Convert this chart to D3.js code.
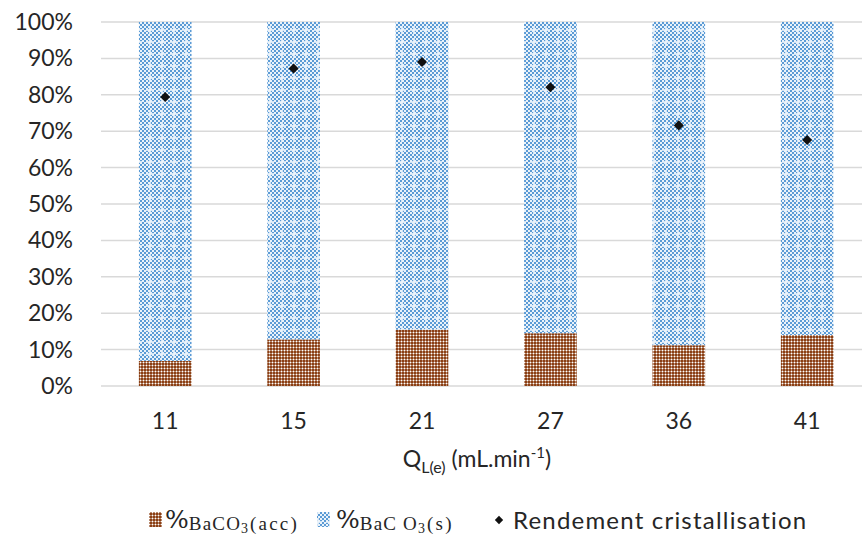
<!DOCTYPE html>
<html><head><meta charset="utf-8">
<script src="https://cdn.jsdelivr.net/npm/d3@7"></script>
<style>
html,body{margin:0;padding:0;background:#fff;}
svg{display:block;font-family:Lato,"Open Sans",sans-serif;}
</style></head>
<body><svg id="c" width="862" height="538"></svg>
<script>
const categories = ["11","15","21","27","36","41"];
const accValues = [0.069, 0.128, 0.155, 0.145, 0.112, 0.140];
const solidValues = [0.931, 0.872, 0.845, 0.855, 0.888, 0.860];
const yieldValues = [0.794, 0.872, 0.890, 0.821, 0.716, 0.676];
const yTicks = [0,0.1,0.2,0.3,0.4,0.5,0.6,0.7,0.8,0.9,1.0];

const svg = d3.select("#c");
const defs = svg.append("defs");

// blue checker pattern with white crosses
const pb = defs.append("pattern").attr("id","pBlue").attr("patternUnits","userSpaceOnUse")
  .attr("width",12).attr("height",12);
pb.append("rect").attr("width",12).attr("height",12).attr("fill","#fff");
for(let i=0;i<6;i++)for(let j=0;j<6;j++){
  if((i+j)%2===0)
    pb.append("rect").attr("x",i*2).attr("y",j*2).attr("width",2).attr("height",2).attr("fill","#5B9BD5");
}
pb.append("rect").attr("x",5).attr("y",2).attr("width",2).attr("height",8).attr("fill","#fff").attr("opacity",0.8);
pb.append("rect").attr("x",2).attr("y",5).attr("width",8).attr("height",2).attr("fill","#fff").attr("opacity",0.8);
pb.append("rect").attr("x",0).attr("y",0).attr("width",12).attr("height",12).attr("fill","#5B9BD5").attr("opacity",0.12);

// brown pattern
const pr = defs.append("pattern").attr("id","pBrown").attr("patternUnits","userSpaceOnUse")
  .attr("width",3).attr("height",3);
pr.append("rect").attr("width",3).attr("height",3).attr("fill","#8B3F14");
pr.append("rect").attr("x",2).attr("y",2).attr("width",1).attr("height",1).attr("fill","#fff");
pr.append("rect").attr("x",2).attr("y",0).attr("width",1).attr("height",2).attr("fill","#fff").attr("opacity",0.4);
pr.append("rect").attr("x",0).attr("y",2).attr("width",2).attr("height",1).attr("fill","#fff").attr("opacity",0.4);

const x = d3.scaleBand().domain(categories).range([101, 871.4]).paddingInner(0.59).paddingOuter(0.295);
const y = d3.scaleLinear().domain([0,1]).range([386, 22]);

// gridlines
svg.append("g").selectAll("line").data(yTicks).join("line")
  .attr("x1",101).attr("x2",862).attr("y1",d=>y(d)).attr("y2",d=>y(d))
  .attr("stroke","#d9d9d9").attr("stroke-width",1.5);

// y tick labels
svg.append("g").selectAll("text").data(yTicks).join("text")
  .attr("x",73).attr("y",d=>y(d)+8).attr("text-anchor","end")
  .attr("font-size",23).attr("fill","#262626")
  .text(d=>d3.format(".0%")(d));

// bars
const bars = svg.append("g");
bars.selectAll("rect.acc").data(categories).join("rect").attr("class","acc")
  .attr("x",d=>x(d)).attr("width",x.bandwidth())
  .attr("y",(d,i)=>y(accValues[i])).attr("height",(d,i)=>y(0)-y(accValues[i]))
  .attr("fill","url(#pBrown)");
bars.selectAll("rect.sol").data(categories).join("rect").attr("class","sol")
  .attr("x",d=>x(d)).attr("width",x.bandwidth())
  .attr("y",(d,i)=>y(accValues[i]+solidValues[i])).attr("height",(d,i)=>y(accValues[i])-y(accValues[i]+solidValues[i]))
  .attr("fill","url(#pBlue)");

// markers
const diamond = d3.symbol().type(d3.symbolDiamond2).size(64);
svg.append("g").selectAll("path").data(categories).join("path")
  .attr("d",diamond)
  .attr("transform",(d,i)=>`translate(${x(d)+x.bandwidth()/2},${y(yieldValues[i])})`)
  .attr("fill","#111");

// x tick labels
svg.append("g").selectAll("text").data(categories).join("text")
  .attr("x",d=>x(d)+x.bandwidth()/2).attr("y",429).attr("text-anchor","middle")
  .attr("font-size",23).attr("fill","#262626").text(d=>d);

// x title
const xt = svg.append("text").attr("x",477).attr("y",467).attr("text-anchor","middle")
  .attr("font-size",23).attr("fill","#262626");
xt.append("tspan").text("Q");
xt.append("tspan").attr("font-size",16).attr("dy",6).text("L(e)");
xt.append("tspan").attr("dy",-6).text(" (mL.min");
xt.append("tspan").attr("font-size",15).attr("dy",-9).text("-1");
xt.append("tspan").attr("dy",9).text(")");

// legend
const lg = svg.append("g");
lg.append("rect").attr("x",149).attr("y",512).attr("width",13).attr("height",15).attr("fill","url(#pBrown)");
const l1 = lg.append("text").attr("x",165).attr("y",528).attr("fill","#262626");
l1.append("tspan").attr("font-size",25).attr("font-family","DejaVu Serif, serif").text("%");
l1.append("tspan").attr("font-size",19).attr("font-family","Liberation Serif, serif").attr("dy",2).attr("letter-spacing",1.2).text("BaCO");
l1.append("tspan").attr("font-size",14).attr("font-family","Liberation Serif, serif").attr("dy",3).attr("letter-spacing",2).text("3");
l1.append("tspan").attr("font-size",19).attr("font-family","Liberation Serif, serif").attr("dy",-3).attr("letter-spacing",2.2).text("(acc)");

lg.append("rect").attr("x",317).attr("y",512).attr("width",13).attr("height",15).attr("fill","url(#pBlue)");
const l2 = lg.append("text").attr("x",336).attr("y",528).attr("fill","#262626");
l2.append("tspan").attr("font-size",25).attr("font-family","DejaVu Serif, serif").text("%");
l2.append("tspan").attr("font-size",19).attr("font-family","Liberation Serif, serif").attr("dy",2).attr("letter-spacing",1.2).text("BaC O");
l2.append("tspan").attr("font-size",14).attr("font-family","Liberation Serif, serif").attr("dy",3).attr("letter-spacing",2).text("3");
l2.append("tspan").attr("font-size",19).attr("font-family","Liberation Serif, serif").attr("dy",-3).attr("letter-spacing",2.2).text("(s)");

lg.append("path").attr("d",d3.symbol().type(d3.symbolDiamond2).size(44))
  .attr("transform","translate(499,520)").attr("fill","#111");
lg.append("text").attr("x",513).attr("y",529).attr("font-size",24).attr("letter-spacing",1.2).attr("fill","#262626")
  .text("Rendement cristallisation");
</script></body></html>
